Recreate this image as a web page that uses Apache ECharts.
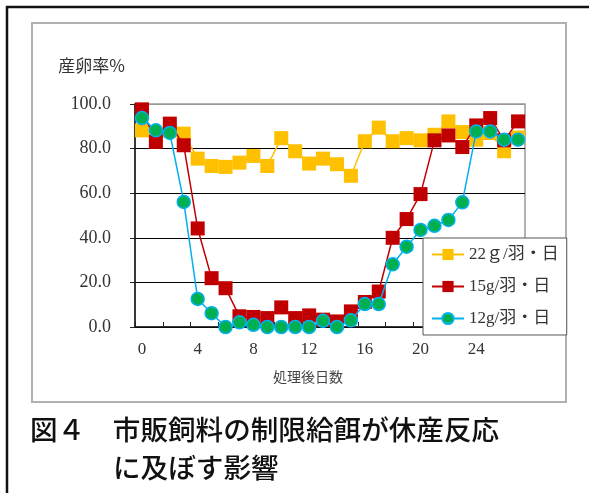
<!DOCTYPE html>
<html>
<head>
<meta charset="utf-8">
<script src="https://cdn.jsdelivr.net/npm/echarts@6/dist/echarts.min.js"></script>
<style>
  html, body { margin: 0; padding: 0; background: #fff; }
  #chart { width: 589px; height: 493px; }
</style>
</head>
<body>
<div id="chart"></div>
<script>
// Days after the start of restricted feeding
const days = ['0','1','2','3','4','5','6','7','8','9','10','11','12','13',
              '14','15','16','17','18','19','20','21','22','23','24','25','26','27'];

// Laying rate (%) per feeding level
const feed22 = [88.2, 86.0, 88.0, 86.7, 75.5, 72.2, 71.8, 73.7, 76.7, 72.2, 84.7, 78.8, 73.3, 75.5,
                73.0, 67.8, 83.3, 89.4, 83.3, 84.7, 83.7, 86.2, 92.2, 87.4, 84.0, 87.0, 78.8, 85.0];
const feed15 = [97.6, 83.0, 91.2, 81.5, 44.2, 21.9, 17.4, 4.8, 4.5, 4.0, 8.8, 4.0, 5.2, 3.3,
                2.5, 7.0, 11.2, 15.9, 40.0, 48.4, 59.6, 83.7, 85.9, 80.7, 90.4, 93.7, 83.7, 92.2];
const feed12 = [93.7, 88.2, 87.0, 56.1, 12.6, 6.2, 0.0, 2.1, 1.0, 0.0, 0.0, 0.0, 0.0, 2.8,
                0.0, 3.0, 10.3, 10.3, 28.1, 36.0, 43.5, 45.4, 48.0, 55.9, 87.7, 87.7, 84.0, 84.0];

const seriesNames = ['22ｇ/羽・日', '15g/羽・日', '12g/羽・日'];
const yTicks = { min: 0, max: 100, step: 20 };

const serifFont = "'Liberation Serif', 'Noto Sans CJK JP', serif";
const sansFont = "'Noto Sans CJK JP', sans-serif";

const chart = echarts.init(document.getElementById('chart'), null, { renderer: 'canvas' });

chart.setOption({
  backgroundColor: '#fff',
  animation: false,
  grid: {
    left: 135, right: 64, top: 104, bottom: 166,
    show: true, borderColor: '#999', borderWidth: 1.5, backgroundColor: 'transparent'
  },
  xAxis: {
    type: 'category',
    data: days,
    boundaryGap: true,
    name: '処理後日数',
    nameLocation: 'middle',
    nameGap: 50,
    nameTextStyle: {
      fontFamily: sansFont, fontSize: 14, color: '#444',
      verticalAlign: 'middle', padding: [0, 44, 0, 0]
    },
    axisLine: { lineStyle: { color: '#111', width: 1.5 } },
    axisTick: { show: true, inside: true, length: 5, interval: 1, alignWithLabel: false,
                lineStyle: { color: '#222' } },
    axisLabel: { interval: 3, margin: 14, fontFamily: serifFont, fontSize: 17, color: '#333' },
    splitLine: { show: false }
  },
  yAxis: {
    type: 'value',
    min: yTicks.min, max: yTicks.max, interval: yTicks.step,
    name: '産卵率%',
    nameLocation: 'end',
    nameGap: 38,
    nameTextStyle: {
      fontFamily: sansFont, fontSize: 17, color: '#333',
      align: 'right', verticalAlign: 'middle', padding: [0, 10, 0, 0]
    },
    axisLine: { show: true, lineStyle: { color: '#111', width: 1.5 } },
    axisTick: { show: true, length: 5, lineStyle: { color: '#222' } },
    axisLabel: {
      margin: 24, fontFamily: serifFont, fontSize: 18, color: '#333',
      formatter: v => v.toFixed(1)
    },
    splitLine: {
      show: true,
      lineStyle: { color: ['#000', '#000', '#000', '#000', '#000', '#999'], width: 1 }
    }
  },
  legend: {
    orient: 'vertical',
    left: 423, top: 238,
    padding: [8, 8, 8, 8],
    itemGap: 15,
    itemWidth: 32, itemHeight: 14,
    backgroundColor: '#fff',
    borderColor: '#555', borderWidth: 1, borderRadius: 0,
    textStyle: { fontFamily: serifFont, fontSize: 17, color: '#333' },
    data: seriesNames
  },
  series: [
    {
      name: seriesNames[0], type: 'line', data: feed22,
      symbol: 'rect', symbolSize: 14, showAllSymbol: true,
      itemStyle: { color: '#FFC000' },
      lineStyle: { color: '#FFC000', width: 1.5 },
      z: 2
    },
    {
      name: seriesNames[1], type: 'line', data: feed15,
      symbol: 'rect', symbolSize: 14, showAllSymbol: true,
      itemStyle: { color: '#C00000' },
      lineStyle: { color: '#C00000', width: 1.5 },
      z: 3
    },
    {
      name: seriesNames[2], type: 'line', data: feed12,
      symbol: 'circle', symbolSize: 13, showAllSymbol: true,
      itemStyle: { color: '#00B050', borderColor: '#00B0F0', borderWidth: 1.5 },
      lineStyle: { color: '#00B0F0', width: 1.5 },
      z: 4
    }
  ],
  graphic: [
    { type: 'rect', z: -10, silent: true,
      shape: { x: 7, y: 7, width: 700, height: 600 },
      style: { fill: 'none', stroke: '#111', lineWidth: 2.5 } },
    { type: 'rect', z: -10, silent: true,
      shape: { x: 32, y: 23, width: 534, height: 379 },
      style: { fill: 'none', stroke: '#b0b0b0', lineWidth: 2 } },
    { type: 'text', left: 30, top: 416, silent: true,
      style: { text: '図４　市販飼料の制限給餌が休産反応', fontFamily: sansFont,
               fontSize: 27.6, fontWeight: 500, fill: '#111' } },
    { type: 'text', left: 113, top: 454, silent: true,
      style: { text: 'に及ぼす影響', fontFamily: sansFont, fontSize: 27.6, fontWeight: 500, fill: '#111' } }
  ]
});
</script>
</body>
</html>
